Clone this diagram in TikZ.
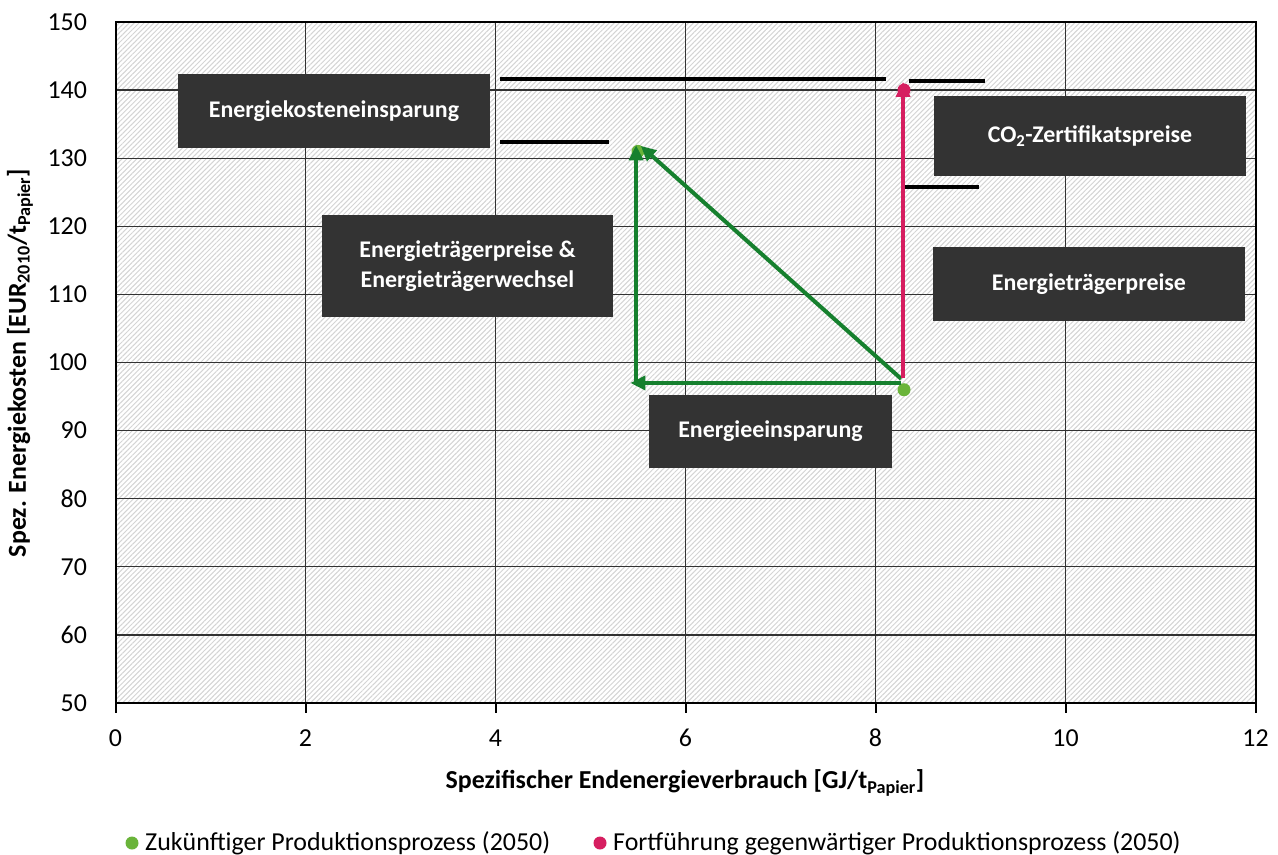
\documentclass[tikz,border=0pt]{standalone}
\usepackage{fontspec}
\setmainfont{Carlito}
\usetikzlibrary{arrows.meta,patterns.meta}
\definecolor{boxgray}{RGB}{51,51,51}
\definecolor{arrowgreen}{RGB}{22,128,46}
\definecolor{dotgreen}{RGB}{106,180,58}
\definecolor{rosepink}{RGB}{214,30,96}
\definecolor{hatchgray}{RGB}{212,212,212}
\definecolor{gridgray}{RGB}{50,50,50}
\begin{document}
\begin{tikzpicture}[x=1bp,y=-1bp,
  lbl/.style={font=\fontsize{26}{30}\selectfont},
  ttl/.style={font=\bfseries\fontsize{26}{30}\selectfont},
  darkbox/.style={fill=boxgray,text=white,inner sep=0pt,align=center,
    font=\bfseries\fontsize{24}{30}\selectfont},
  bar/.style={line width=4bp,black},
  dotpt/.style={circle,inner sep=0pt,minimum size=13bp},
  move/.style={line width=4bp,-{Triangle[length=15bp,width=14bp]}},
  grid line/.style={gridgray,line width=1.3bp}]
% canvas
\useasboundingbox (0,0) rectangle (1278,855);
\fill[white] (0,0) rectangle (1278,855);

% plot area in data coordinates: x in GJ/t, y in EUR/t
\begin{scope}[shift={(115.5,1043.5)},x=95bp,y=6.81bp]
  \fill[pattern={Lines[angle=45,distance=3.5bp,line width=1bp]},pattern color=hatchgray]
    (0,50) rectangle (12,150);
  \foreach \gx in {2,4,...,10} \draw[grid line] (\gx,50) -- (\gx,150);
  \foreach \gy in {60,70,...,140} \draw[grid line] (0,\gy) -- (12,\gy);
  \draw[black,line width=2bp] (0,50) rectangle (12,150);
  \foreach \gx in {0,2,...,12} {
    \draw[black,line width=2bp] (\gx,50) -- ++(0,-10bp);
    \node[lbl] (xt\gx) at ([yshift=-35bp]\gx,50) {\gx};
  }
  \foreach \gy in {50,60,...,150}
    \node[lbl,anchor=east] (yt\gy) at ([xshift=-25bp]0,\gy) {\gy};

  % data points
  \node[dotpt,fill=dotgreen] (futA) at (8.3,96) {};
  \node[dotpt,fill=dotgreen] (futB) at (5.5,131) {};
  \node[dotpt,fill=rosepink] (cont) at (8.3,140) {};

  % arrow end points
  \coordinate (hStart) at (8.27,97);
  \coordinate (hEnd) at (5.42,97);
  \coordinate (vStart) at (5.48,96.7);
  \coordinate (vEnd) at (5.48,131.9);
  \coordinate (dStart) at (8.27,97.6);
  \coordinate (dEnd) at (5.53,131.8);
  \coordinate (pStart) at (8.29,97.7);
  \coordinate (pEnd) at (8.29,141.2);
\end{scope}

% labels on dark boxes
\node[darkbox,minimum width=312bp,minimum height=74bp] (bKosten) at (334,111) {Energiekosteneinsparung};
\node[darkbox,minimum width=312bp,minimum height=80bp] (bCO) at (1090,136) {CO\textsubscript{2}-Zertifikatspreise};
\node[darkbox,minimum width=291bp,minimum height=102bp] (bWechsel) at (467.5,266) {Energieträgerpreise \&\\Energieträgerwechsel};
\node[darkbox,minimum width=312bp,minimum height=74bp] (bPreise) at (1089,284) {Energieträgerpreise};
\node[darkbox,minimum width=243bp,minimum height=73bp] (bEinsp) at (770.5,431.5) {Energieeinsparung};

% level markers
\draw[bar] (500,79) -- (886,79);
\draw[bar] (500,142) -- (609,142);
\draw[bar] (909,81) -- (985,81);
\draw[bar] (903,187) -- (979,187);

% moves between the production routes
\draw[move,arrowgreen] (hStart) -- (hEnd);
\draw[move,arrowgreen] (vStart) -- (vEnd);
\draw[move,arrowgreen] (dStart) -- (dEnd);
\draw[move,rosepink] (pStart) -- (pEnd);

% axis titles
\node[ttl] (xTitle) at (685,783) {Spezifischer Endenergieverbrauch [GJ/t\textsubscript{Papier}]};
\node[ttl,rotate=90] (yTitle) at (20,363) {Spez. Energiekosten [EUR\textsubscript{2010}/t\textsubscript{Papier}]};

% legend
\node[dotpt,fill=dotgreen] (legG) at (132,843) {};
\node[lbl,anchor=west,inner sep=0pt] (legGt) at (145,843) {Zukünftiger Produktionsprozess (2050)};
\node[dotpt,fill=rosepink] (legP) at (600,843) {};
\node[lbl,anchor=west,inner sep=0pt] (legPt) at (613,843) {Fortführung gegenwärtiger Produktionsprozess (2050)};
\end{tikzpicture}
\end{document}
